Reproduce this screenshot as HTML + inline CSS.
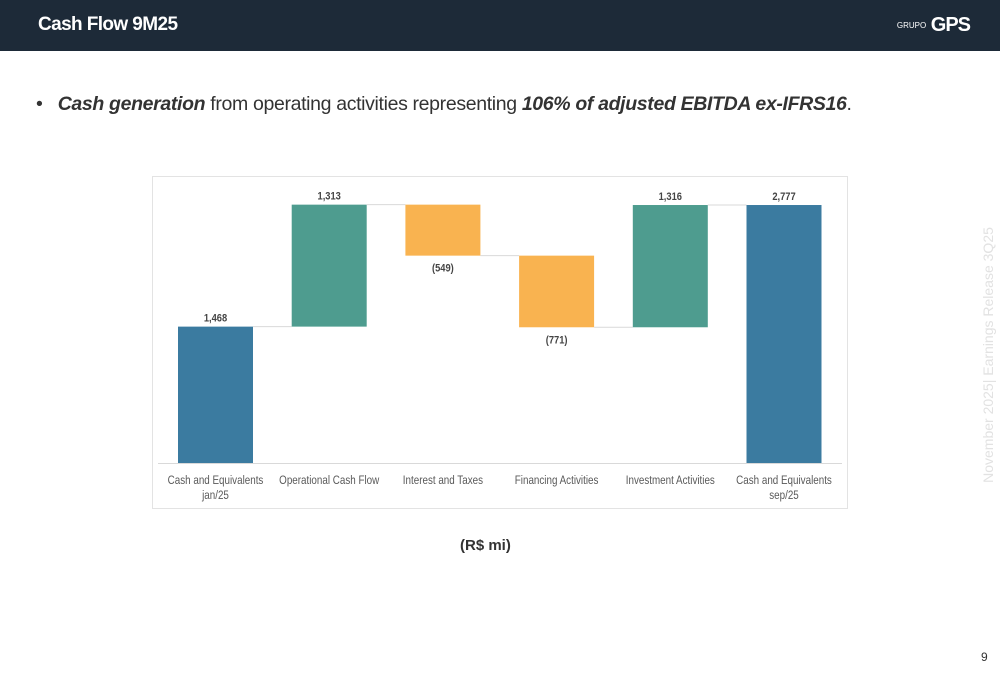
<!DOCTYPE html>
<html><head><meta charset="utf-8"><style>
body{margin:0;width:1000px;height:685px;background:#fff;position:relative;overflow:hidden;font-family:"Liberation Sans",sans-serif}
#hdr{position:absolute;left:0;top:0;width:1000px;height:51px;background:#1d2a38}
#ttl{position:absolute;left:38px;top:14px;color:#fff;font-size:19px;font-weight:bold;letter-spacing:-0.6px}
#logo{position:absolute;right:30px;top:14px;color:#fff;font-weight:bold;font-size:20px;letter-spacing:-1px}
#logo span{font-size:8px;font-weight:normal;vertical-align:middle;letter-spacing:0}
#bul{position:absolute;left:36px;top:93px;font-size:19.5px;color:#333;letter-spacing:-0.35px;word-spacing:0px}
#side{position:absolute;left:988px;top:355px;transform:translate(-50%,-50%) rotate(-90deg);white-space:nowrap;color:#e2e2e2;font-size:14px}
#pg{position:absolute;left:981px;top:650px;font-size:12px;color:#333}
#unit{position:absolute;left:460px;top:537px;font-size:15px;font-weight:bold;color:#333}
</style></head><body>
<div id="hdr"></div>
<div id="ttl">Cash Flow 9M25</div>
<div id="logo"><span>GRUPO</span> GPS</div>
<div id="bul">•&nbsp;&nbsp;&nbsp;<b><i>Cash generation</i></b> from operating activities representing <b><i>106% of adjusted EBITDA ex-IFRS16</i></b>.</div>
<div id="side">November 2025| Earnings Release 3Q25</div>
<div id="pg">9</div>
<div id="unit">(R$ mi)</div>
<svg id="chart" width="1000" height="685" style="position:absolute;left:0;top:0">
<rect x="152.5" y="176.5" width="695" height="332" fill="none" stroke="#e3e3e3"/>
<line x1="158" y1="463.5" x2="842" y2="463.5" stroke="#d9d9d9"/>
<g id="g"></g>
</svg>
<script>
const categories=[["Cash and Equivalents","jan/25"],["Operational  Cash Flow"],["Interest and Taxes"],["Financing Activities"],["Investment  Activities"],["Cash and Equivalents","sep/25"]];
const values=[1468,1313,-549,-771,1316,2777];
const types=["total","delta","delta","delta","delta","total"];
const labels=["1,468","1,313","(549)","(771)","1,316","2,777"];
const NS="http://www.w3.org/2000/svg",g=document.getElementById('g');
const y=v=>463-v*0.0929, xc=i=>215.5+i*113.7, W=75;
function mk(t,a){const e=document.createElementNS(NS,t);for(const k in a)e.setAttribute(k,a[k]);g.appendChild(e);return e;}
let run=0;
values.forEach((v,i)=>{
 let a,b,col;const prev=run;
 if(types[i]=="total"){a=0;b=v;run=v;col="#3b7ba0";}
 else{a=run;b=run+v;run=b;col=v>=0?"#4e9c8f":"#f9b350";}
 const top=y(Math.max(a,b)),bot=y(Math.min(a,b));
 if(i>0){const c=mk('line',{x1:xc(i-1)+W/2,x2:xc(i)-W/2,y1:y(prev),y2:y(prev),stroke:"#d9d9d9"});
 
 }
 const r=mk('rect',{x:xc(i)-W/2,y:top,width:W,height:bot-top,fill:col});
 
 
 const ty=v>=0?top-5:bot+16;
 const t=mk('text',{x:0,y:0,transform:`translate(${xc(i)},${ty}) scale(0.85,1)`,"text-anchor":"middle","font-size":"11","font-weight":"bold",fill:"#444"});
 t.textContent=labels[i];
 
 
 categories[i].forEach((ln,j)=>{const c=mk('text',{x:0,y:0,transform:`translate(${xc(i)},${484+j*15}) scale(0.82,1)`,"text-anchor":"middle","font-size":"12",fill:"#595959"});
 c.textContent=ln;
 
 });
});
</script>
</body></html>
